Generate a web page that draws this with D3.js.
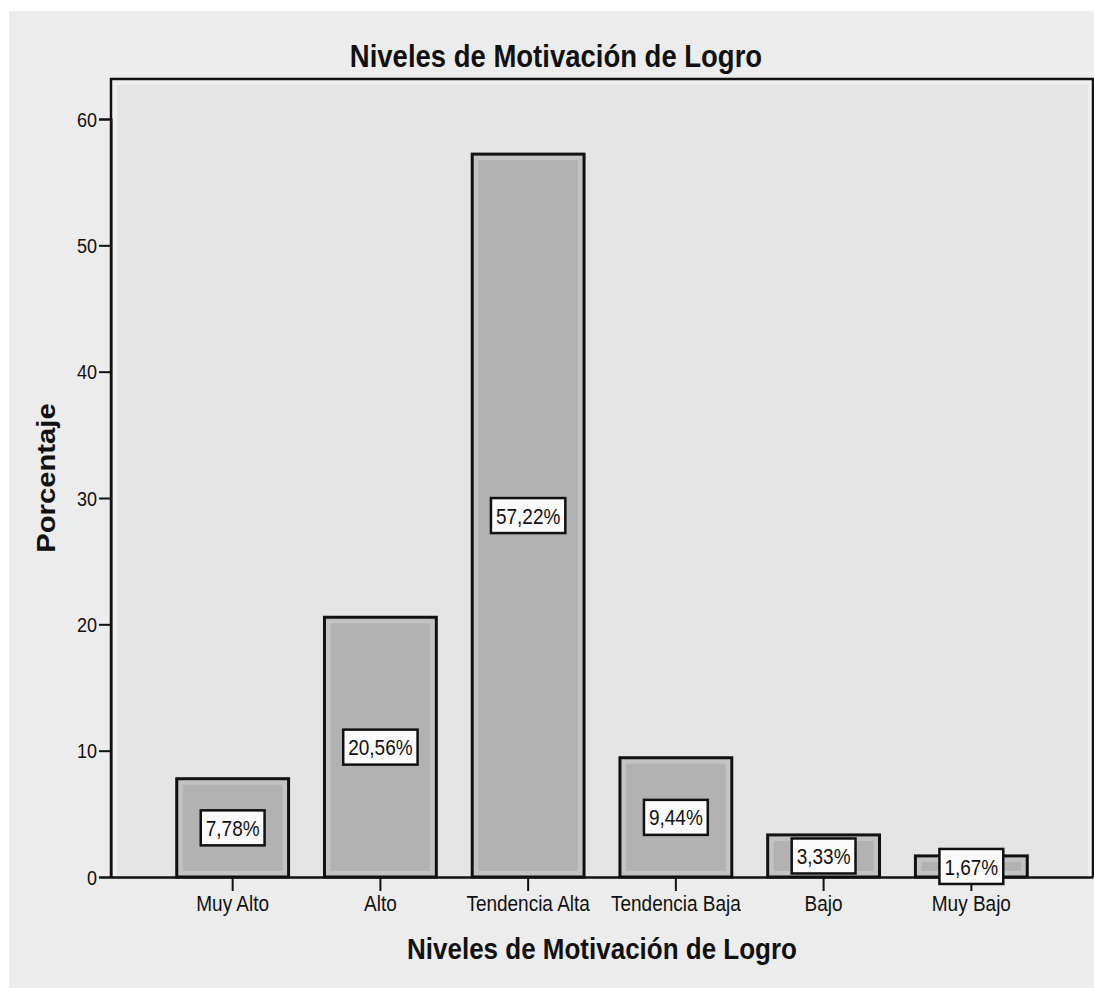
<!DOCTYPE html>
<html>
<head>
<meta charset="utf-8">
<script src="https://cdn.jsdelivr.net/npm/d3@7"></script>
<style>
html,body{margin:0;padding:0;background:#fff;}
svg{display:block;}
text{font-family:"Liberation Sans",Arial,sans-serif;fill:#111;}
</style>
</head>
<body>
<svg id="chart" width="1094" height="988"></svg>
<script>
const categories = ["Muy Alto","Alto","Tendencia Alta","Tendencia Baja","Bajo","Muy Bajo"];
const values = [7.78, 20.56, 57.22, 9.44, 3.33, 1.67];
const valueLabels = ["7,78%","20,56%","57,22%","9,44%","3,33%","1,67%"];
const yTicks = [0,10,20,30,40,50,60];
const chartTitle = "Niveles de Motivación de Logro";
const xTitle = "Niveles de Motivación de Logro";
const yTitle = "Porcentaje";

const W = 1094, H = 988;
const plot = {left:111, right:1093, top:79, bottom:877};
const SY = 1.17; // vertical stretch of text in reference

const svg = d3.select("#chart");

// outer panel
svg.append("rect").attr("x",9).attr("y",11).attr("width",W-9).attr("height",H-11).attr("fill","#ececec");

const x = d3.scaleBand().domain(categories).range([plot.left, plot.right]).paddingInner(0.243).paddingOuter(0.445);
const y = d3.scaleLinear().domain([0, 60]).range([plot.bottom, 119]);

// plot area
svg.append("rect").attr("x",plot.left).attr("y",plot.top).attr("width",plot.right-plot.left).attr("height",plot.bottom-plot.top).attr("fill","#efefef");
svg.append("rect").attr("x",plot.left+6).attr("y",plot.top+6).attr("width",plot.right-plot.left-11).attr("height",plot.bottom-plot.top-6).attr("fill","#e5e5e5");

function stext(g, px, py, str, opts){
  const t = g.append("g").attr("transform",`translate(${px},${py}) scale(1,${SY})` + (opts.rotate?` rotate(${opts.rotate})`:""))
    .append("text").text(str)
    .attr("text-anchor", opts.anchor||"middle")
    .attr("dominant-baseline", opts.baseline||"auto")
    .style("font-size", opts.size+"px")
    .style("font-weight", opts.weight||"normal");
  return t;
}

// bars
const bars = svg.append("g");
categories.forEach((c,i)=>{
  const bx = x(c), bw = x.bandwidth(), by = y(values[i]), bh = y(0)-y(values[i]);
  bars.append("rect").attr("x",bx).attr("y",by).attr("width",bw).attr("height",bh).attr("fill","#c3c3c3");
  const ins = Math.min(6, bh/3);
  bars.append("rect").attr("x",bx+ins).attr("y",by+ins).attr("width",bw-2*ins).attr("height",Math.max(0,bh-2*ins)).attr("fill","#b2b2b2");
  bars.append("rect").attr("x",bx).attr("y",by).attr("width",bw).attr("height",bh).attr("fill","none").attr("stroke","#111").attr("stroke-width",3);
});

// plot frame (top, right)
svg.append("path").attr("d",`M${plot.left},${plot.bottom}V${plot.top}H${plot.right}V${plot.bottom}`).attr("fill","none").attr("stroke","#111").attr("stroke-width",2.5);

// y axis
const yAxis = d3.axisLeft(y).tickValues(yTicks).tickSize(12).tickFormat(d3.format("d"));
const ya = svg.append("g").attr("transform",`translate(${plot.left},0)`).call(yAxis);
ya.select(".domain").attr("stroke","#111").attr("stroke-width",2);
ya.selectAll(".tick line").attr("stroke","#111").attr("stroke-width",2);
ya.selectAll(".tick text").remove();
yTicks.forEach(v=>{
  stext(svg, plot.left-14, y(v), String(v), {anchor:"end", baseline:"central", size:18});
});

// x axis
const xAxis = d3.axisBottom(x).tickSize(14).tickSizeOuter(0);
const xa = svg.append("g").attr("transform",`translate(0,${plot.bottom})`).call(xAxis);
xa.select(".domain").attr("stroke","#111").attr("stroke-width",2.5);
xa.selectAll(".tick line").attr("stroke","#111").attr("stroke-width",2);
xa.selectAll(".tick text").remove();
categories.forEach(c=>{
  stext(svg, x(c)+x.bandwidth()/2, 911, c, {size:19});
});

// value labels
const lab = svg.append("g");
categories.forEach((c,i)=>{
  const cx = x(c)+x.bandwidth()/2;
  const cy = y(values[i]/2);
  const g = lab.append("g");
  const rect = g.append("rect");
  const t = stext(g, cx, cy, valueLabels[i], {baseline:"central", size:19});
  const bb = t.node().getBBox();
  const bw = bb.width + 10, bh = 35;
  rect.attr("x",cx-bw/2).attr("y",cy-bh/2).attr("width",bw).attr("height",bh).attr("fill","#fafafa").attr("stroke","#111").attr("stroke-width",2.5);
});

// titles
stext(svg, 556, 67, chartTitle, {size:27.5, weight:"bold"});
stext(svg, (plot.left+plot.right)/2, 959, xTitle, {size:26, weight:"bold"});
stext(svg, 55, (plot.top+plot.bottom)/2, yTitle, {size:25, weight:"bold", rotate:-90});
</script>
</body>
</html>
